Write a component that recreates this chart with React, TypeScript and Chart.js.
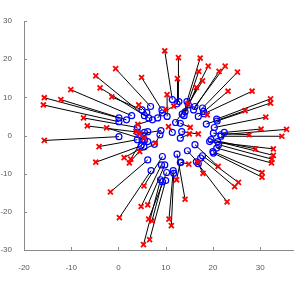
import React, { useEffect, useRef } from "react";
import { Chart, registerables } from "chart.js";
Chart.register(...registerables);

// Start points (blue circles)
const circleX = [0.1, 0.1, 0.1, 1.7, 2.8, 4.0, 4.0, 5.5, 5.5, 5.0, 6.8, 6.4, 9.2, 6.0, 7.2, 5.5, 11.4, 12.8, 12.4, 14.5, 14.8, 16.2, 14.1, 15.9, 17.8, 13.5, 13.9, 16.9, 18.1, 10.3, 9.3, 8.3, 12.1, 20.8, 20.9, 18.6, 18.0, 20.3, 22.4, 21.7, 20.1, 21.7, 13.4, 13.1, 11.4, 19.3, 19.6, 21.0, 21.2, 20.8, 20.0, 20.1, 16.2, 16.9, 17.8, 17.4, 16.5, 13.2, 14.6, 13.1, 12.4, 11.6, 11.7, 9.3, 9.1, 9.8, 6.9, 6.2, 10.2, 9.3, 8.9, 10.0, 4.8, 5.0, 6.2, 7.6, 4.0, 6.2, 8.8, 5.4, 9.0, 13.1];
const circleY = [-0.3, 3.6, 4.6, 4.1, 5.2, 2.1, 0.9, -1.1, 5.2, 6.7, 7.6, 4.6, 6.7, 6.0, 4.1, 0.8, 9.4, 8.9, 8.3, 8.9, 8.0, 7.6, 6.2, 6.7, 7.2, 5.6, 5.2, 5.0, 5.7, 5.0, 5.9, 4.6, 3.4, 4.3, 3.8, 3.0, 6.3, 2.1, 0.8, 0.2, 0.6, -0.2, 1.0, 3.2, 0.8, -1.6, -1.1, -1.6, -2.4, -3.3, -4.2, -4.6, -2.4, -7.4, -5.3, -5.9, -6.9, -7.0, -4.0, -7.1, -4.9, -9.2, -9.9, -5.5, -7.7, -7.7, -9.2, -6.4, -9.7, -12.1, -11.6, -11.8, -2.7, -1.1, -1.6, -2.3, -1.1, 1.0, 0.2, -3.0, 1.3, -0.7];
// End points (red crosses)
const crossX = [-15.7, -15.9, -15.7, -12.2, -10.1, -7.4, -6.6, -2.5, -4.8, -1.4, -0.6, -3.9, 4.9, 4.3, 4.1, 3.7, 9.8, 12.7, 12.5, 17.3, 19.0, 22.6, 17.0, 21.3, 25.2, 17.8, 16.5, 23.2, 28.3, 10.3, 11.7, 10.0, 14.7, 32.2, 32.2, 26.8, 18.8, 31.2, 30.2, 35.6, 27.7, 34.6, 16.9, 15.2, 10.6, 32.8, 29.0, 32.8, 32.5, 32.4, 30.4, 30.4, 21.1, 17.9, 25.4, 24.6, 23.0, 14.9, 16.8, 12.3, 14.1, 10.7, 11.2, 5.4, 4.8, 6.2, 0.2, -1.7, 6.4, 7.1, 5.3, 6.6, -4.8, 2.6, 2.3, 4.5, -4.1, 5.4, 7.8, 1.2, 4.5, 15.0];
const crossY = [-1.3, 8.0, 9.9, 9.4, 12.0, 4.6, 2.5, 2.0, 15.6, 10.1, 17.5, 12.5, 15.2, 8.0, 2.9, 1.0, 22.2, 20.4, 14.9, 20.3, 18.2, 18.2, 16.8, 16.8, 16.6, 14.3, 12.6, 11.6, 11.6, 10.7, 7.7, 6.9, 8.3, 9.6, 8.5, 6.5, 5.4, 4.8, 1.7, 1.6, 0.2, -0.2, 0.4, 2.1, 2.3, -3.5, -3.5, -5.2, -6.2, -7.2, -9.7, -10.9, -8.1, -9.9, -12.3, -13.4, -17.4, -7.5, -7.0, -11.6, -16.7, -21.9, -23.6, -13.2, -18.6, -18.2, -21.5, -14.8, -21.9, -22.4, -28.6, -27.3, -7.0, -6.2, -7.2, -4.2, -2.9, -0.7, -2.0, -5.8, 0.4, 0.4];

const xTicks = [-20, -10, 0, 10, 20, 30];
const yTicks = [-30, -20, -10, 0, 10, 20, 30];

const AXIS_COLOR = "#8a8a8a";
const LABEL_COLOR = "#5a5a5a";

const inwardTicks = {
  id: "inwardTicks",
  afterDraw(chart: any) {
    const { ctx, chartArea, scales } = chart;
    ctx.save();
    ctx.strokeStyle = AXIS_COLOR;
    ctx.lineWidth = 1;
    ctx.beginPath();
    for (const v of xTicks) {
      const px = Math.round(scales.x.getPixelForValue(v)) + 0.5;
      ctx.moveTo(px, chartArea.bottom);
      ctx.lineTo(px, chartArea.bottom - 3);
    }
    for (const v of yTicks) {
      const py = Math.round(scales.y.getPixelForValue(v)) + 0.5;
      ctx.moveTo(chartArea.left, py);
      ctx.lineTo(chartArea.left + 3, py);
    }
    ctx.stroke();
    ctx.restore();
  },
};

export default function App() {
  const ref = useRef<HTMLCanvasElement | null>(null);
  useEffect(() => {
    if (!ref.current) return;
    const segDatasets: any[] = circleX.map((cx, i) => ({
      type: "line",
      showLine: true,
      data: [
        { x: cx, y: circleY[i] },
        { x: crossX[i], y: crossY[i] },
      ],
      borderColor: "#000000",
      borderWidth: 1,
      pointRadius: 0,
    }));
    const chart = new Chart(ref.current, {
      type: "scatter",
      data: {
        datasets: [
          {
            type: "scatter",
            data: crossX.map((x, i) => ({ x, y: crossY[i] })),
            pointStyle: "crossRot",
            pointRadius: 3.5,
            borderColor: "#ff0000",
            pointBorderWidth: 1.8,
          } as any,
          {
            type: "scatter",
            data: circleX.map((x, i) => ({ x, y: circleY[i] })),
            pointStyle: "circle",
            pointRadius: 3,
            borderColor: "#0000ff",
            backgroundColor: "rgba(0,0,0,0)",
            pointBorderWidth: 1.2,
          } as any,
          ...segDatasets,
        ],
      },
      options: {
        responsive: false,
        animation: false,
        layout: { padding: { top: 21, right: 0, left: 0, bottom: 0 } },
        plugins: { legend: { display: false }, tooltip: { enabled: false } },
        scales: {
          x: {
            type: "linear",
            min: -20,
            max: 37,
            grid: { display: false },
            border: { display: true, color: AXIS_COLOR, width: 1 },
            ticks: { font: { size: 8 }, color: LABEL_COLOR, padding: 5, includeBounds: false, maxRotation: 0 },
            afterBuildTicks: (s: any) => {
              s.ticks = xTicks.map((v) => ({ value: v }));
            },
            afterFit: (s: any) => {
              s.height = 31;
            },
          },
          y: {
            type: "linear",
            min: -30,
            max: 30,
            grid: { display: false },
            border: { display: true, color: AXIS_COLOR, width: 1 },
            ticks: { font: { size: 8 }, color: LABEL_COLOR, padding: 4, includeBounds: false },
            afterBuildTicks: (s: any) => {
              s.ticks = yTicks.map((v) => ({ value: v }));
            },
            afterFit: (s: any) => {
              s.width = 24;
            },
          },
        },
      } as any,
      plugins: [inwardTicks],
    });
    return () => chart.destroy();
  }, []);
  return (
    <div style={{ position: "absolute", left: 0, top: 0, width: 299, height: 281 }}>
      <canvas ref={ref} width={299} height={281} style={{ display: "block", width: 299, height: 281 }} />
    </div>
  );
}
